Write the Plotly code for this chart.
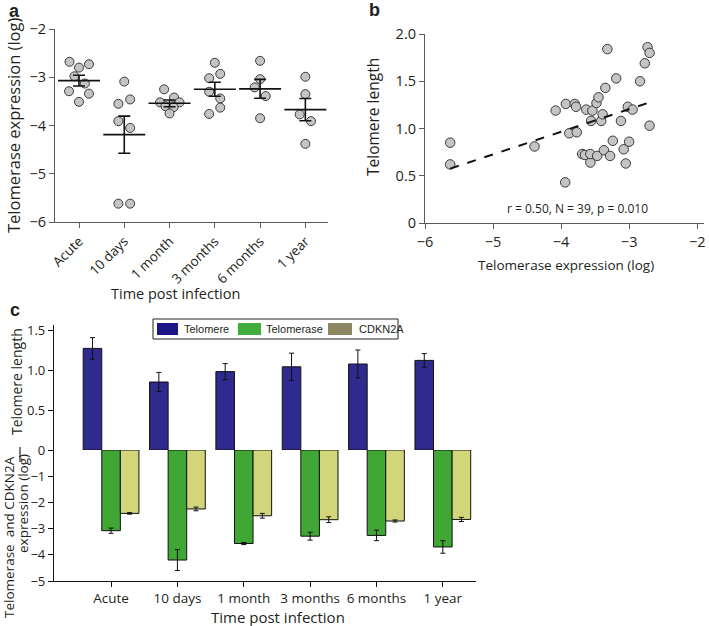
import plotly.graph_objects as go

W, H = 709, 626


def px(x):
    return x / W


def py(y):
    return 1 - y / H


# ---------------- Panel a data ----------------
a_categories = ["Acute", "10 days", "1 month", "3 months", "6 months", "1 year"]
a_acute = [-2.68, -2.80, -2.73, -2.98, -3.13, -3.29, -3.34, -3.51]
a_10days = [-3.09, -3.55, -3.46, -3.91, -4.05, -5.62, -5.62]
a_1month = [-3.25, -3.42, -3.52, -3.52, -3.60, -3.62, -3.75]
a_3months = [-2.70, -3.02, -2.93, -3.30, -3.44, -3.76, -3.63]
a_6months = [-2.66, -3.04, -3.21, -3.39, -3.85]
a_1year = [-2.99, -3.35, -3.77, -3.91, -4.38]
a_mean = [-3.07, -4.19, -3.54, -3.25, -3.24, -3.67]
a_sem = [0.11, 0.385, 0.07, 0.145, 0.195, 0.23]

# ---------------- Panel b data ----------------
b_x = [-5.63, -5.63, -4.39, -4.08, -3.93, -3.94, -3.88, -3.80, -3.78, -3.77,
       -3.69, -3.65, -3.63, -3.57, -3.57, -3.56, -3.54, -3.48, -3.47, -3.45,
       -3.41, -3.39, -3.37, -3.35, -3.32, -3.28, -3.24, -3.19, -3.12, -3.08,
       -3.05, -3.02, -3.00, -2.95, -2.84, -2.77, -2.73, -2.70, -2.70]
b_y = [0.85, 0.62, 0.81, 1.19, 1.26, 0.43, 0.95, 1.26, 1.23, 0.96,
       0.73, 0.72, 1.20, 0.64, 0.73, 1.08, 1.19, 1.27, 0.71, 1.33,
       1.08, 1.15, 0.77, 1.43, 1.84, 0.71, 0.87, 1.53, 1.08, 0.78,
       0.63, 1.23, 0.86, 1.20, 1.50, 1.69, 1.86, 1.80, 1.03]
b_fit_x = [-5.63, -2.74]
b_fit_y = [0.575, 1.267]
b_stats = "r = 0.50, N = 39, p = 0.010"

# ---------------- Panel c data ----------------
c_categories = ["Acute", "10 days", "1 month", "3 months", "6 months", "1 year"]
c_telomere = [1.27, 0.85, 0.98, 1.04, 1.075, 1.12]
c_telomere_err = [0.135, 0.12, 0.10, 0.17, 0.175, 0.085]
c_telomerase = [-3.08, -4.20, -3.57, -3.29, -3.26, -3.70]
c_telomerase_err = [0.10, 0.40, 0.04, 0.15, 0.20, 0.24]
c_cdkn2a = [-2.42, -2.25, -2.51, -2.66, -2.71, -2.65]
c_cdkn2a_err = [0.03, 0.07, 0.09, 0.11, 0.04, 0.08]
c_legend = ["Telomere", "Telomerase", "CDKN2A"]

# ---------------- styling / layout helpers ----------------
FONT = "Open Sans"
TXT = "#231f20"
AX = "#5a5a5a"
PT_FILL = "#c4c4c4"
PT_LINE = "#3a3a3a"
COL_TEL = "#2e2a8e"
COL_TASE = "#40a634"
COL_CDK = "#d3d57b"
LEG_TEL = "#1c1585"
LEG_TASE = "#3fae3c"
LEG_CDK = "#8d8762"

# horizontal jitter of panel-a points (layout only)
a_jitter = [
    [-0.21, 0.0, 0.22, -0.10, 0.13, -0.22, 0.22, 0.0],
    [0.0, -0.13, 0.13, -0.13, 0.13, -0.13, 0.13],
    [-0.12, 0.10, -0.21, 0.22, -0.09, 0.09, 0.0],
    [0.0, -0.125, 0.12, -0.125, 0.12, -0.125, 0.12],
    [0.0, 0.0, -0.12, 0.125, 0.0],
    [0.0, 0.0, -0.125, 0.125, 0.0],
]

fig = go.Figure()

# Panel a points
a_groups = [a_acute, a_10days, a_1month, a_3months, a_6months, a_1year]
for i, (vals, jit) in enumerate(zip(a_groups, a_jitter)):
    fig.add_trace(go.Scatter(
        x=[i + j for j in jit], y=vals, mode="markers",
        marker=dict(size=9, color=PT_FILL, line=dict(color=PT_LINE, width=1)),
        xaxis="x", yaxis="y", showlegend=False, hoverinfo="y"))

# Panel a mean +/- SEM
fig.add_trace(go.Scatter(
    x=list(range(len(a_categories))), y=a_mean, mode="markers",
    marker=dict(symbol="line-ew", size=30, color="black",
                line=dict(color="#111", width=1.6)),
    error_y=dict(type="data", array=a_sem, visible=True, color="#111",
                 thickness=1.6, width=6),
    xaxis="x", yaxis="y", showlegend=False))

# Panel b scatter and fit
fig.add_trace(go.Scatter(
    x=b_x, y=b_y, mode="markers",
    marker=dict(size=9.5, color=PT_FILL, line=dict(color=PT_LINE, width=1)),
    xaxis="x2", yaxis="y2", showlegend=False))
fig.add_trace(go.Scatter(
    x=b_fit_x, y=b_fit_y, mode="lines",
    line=dict(color="#111", width=2, dash="dash"),
    xaxis="x2", yaxis="y2", showlegend=False))

# Panel c bars
idx = list(range(len(c_categories)))
bw = 0.28
fig.add_trace(go.Bar(
    x=idx, y=c_telomere, width=bw, offset=-1.5 * bw,
    marker=dict(color=COL_TEL, line=dict(color="#111", width=1)),
    error_y=dict(type="data", array=c_telomere_err, color="#111", thickness=1, width=2.5),
    xaxis="x3", yaxis="y3", showlegend=False, name=c_legend[0]))
fig.add_trace(go.Bar(
    x=idx, y=c_telomerase, width=bw, offset=-0.5 * bw,
    marker=dict(color=COL_TASE, line=dict(color="#111", width=1)),
    error_y=dict(type="data", array=c_telomerase_err, color="#111", thickness=1, width=2.5),
    xaxis="x3", yaxis="y4", showlegend=False, name=c_legend[1]))
fig.add_trace(go.Bar(
    x=idx, y=c_cdkn2a, width=bw, offset=0.5 * bw,
    marker=dict(color=COL_CDK, line=dict(color="#111", width=1)),
    error_y=dict(type="data", array=c_cdkn2a_err, color="#111", thickness=1, width=2.5),
    xaxis="x3", yaxis="y4", showlegend=False, name=c_legend[2]))

tickfont_a = dict(family=FONT, size=14.5, color=TXT)
tickfont_c = dict(family=FONT, size=13, color=TXT)
common = dict(showgrid=False, zeroline=False, showline=True, ticks="outside",
              ticklen=5, tickwidth=1.2, linewidth=1.2)

fig.update_layout(
    width=W, height=H, margin=dict(l=0, r=0, t=0, b=0, pad=0, autoexpand=False),
    paper_bgcolor="white", plot_bgcolor="white", barmode="overlay",
    showlegend=False,
    xaxis=dict(domain=[px(55), px(328)], range=[-0.53, 5.5], anchor="y",
               tickvals=idx, ticktext=a_categories, tickangle=-45,
               tickfont=dict(family=FONT, size=13.5, color=TXT),
               linecolor=AX, tickcolor=AX, **common),
    yaxis=dict(domain=[py(222), py(29)], range=[-6, -2], anchor="x",
               tickvals=[-6, -5, -4, -3, -2], tickfont=tickfont_a,
               linecolor=AX, tickcolor=AX, **common),
    xaxis2=dict(domain=[px(425), px(704)], range=[-6, -1.9], anchor="y2",
                tickvals=[-6, -5, -4, -3, -2], tickfont=tickfont_a,
                linecolor=AX, tickcolor=AX, **common),
    yaxis2=dict(domain=[py(223), py(34)], range=[0, 2.0], anchor="x2",
                tickvals=[0, 0.5, 1.0, 1.5, 2.0],
                ticktext=["0", "0.5", "1.0", "1.5", "2.0"], tickfont=tickfont_a,
                linecolor=AX, tickcolor=AX, **common),
    xaxis3=dict(domain=[px(54), px(476)], range=[-0.86, 5.5], anchor="y4",
                tickvals=idx, ticktext=c_categories,
                tickfont=dict(family=FONT, size=13.5, color=TXT),
                linecolor="#111", tickcolor="#111", **common),
    yaxis3=dict(domain=[py(450), py(325)], range=[0, 1.5625], anchor="x3",
                tickvals=[0.5, 1.0, 1.5], ticktext=["0.5", "1.0", "1.5"],
                tickfont=tickfont_c, linecolor="#111", tickcolor="#111", **common),
    yaxis4=dict(domain=[py(581), py(450)], range=[-5, 0], anchor="x3",
                tickvals=[-5, -4, -3, -2, -1, 0], tickfont=tickfont_c,
                linecolor="#111", tickcolor="#111", **common),
)

ann = []


def add_text(text, x, y, size, angle=0, bold=False, xanchor="center", family=FONT):
    ann.append(dict(text=("<b>%s</b>" % text) if bold else text,
                    x=px(x), y=py(y), xref="paper", yref="paper",
                    showarrow=False, textangle=angle, xanchor=xanchor,
                    yanchor="middle", font=dict(family=family, size=size, color=TXT)))


add_text("a", 15, 11, 18, bold=True, family="Liberation Sans")
add_text("b", 375, 10, 18, bold=True, family="Liberation Sans")
add_text("c", 15, 310, 18, bold=True, family="Liberation Sans")
add_text("Telomerase expression (log)", 13, 126, 16.5, angle=-90)
add_text("Time post infection", 175, 293, 14.5)
add_text("Telomere length", 373, 117, 15.5, angle=-90)
add_text("Telomerase expression (log)", 566, 265, 13.5)
add_text(b_stats, 577, 208, 12)
add_text("Telomere length", 16, 382, 14, angle=-90)
add_text("Telomerase  and CDKN2A", 9, 537, 13.5, angle=-90)
add_text("expression (log)", 23, 504, 13.5, angle=-90)
add_text("Time post infection", 278, 617, 15)

# Panel c legend (drawn as a boxed key)
leg_items = [(157, 178, LEG_TEL, 182), (238, 261, LEG_TASE, 264), (328, 352, LEG_CDK, 357)]
shapes = [dict(type="rect", xref="paper", yref="paper", x0=px(153), x1=px(398),
               y0=py(339), y1=py(319), line=dict(color="#222", width=1), fillcolor="white")]
for (x0, x1, col, tx), label in zip(leg_items, c_legend):
    shapes.append(dict(type="rect", xref="paper", yref="paper", x0=px(x0), x1=px(x1),
                       y0=py(335), y1=py(323), line=dict(width=0), fillcolor=col))
    add_text(label, tx, 329, 11, xanchor="left", family="Liberation Sans")

# separator tick between the two y-axis titles of panel c
shapes.append(dict(type="line", xref="paper", yref="paper", x0=px(20), x1=px(20),
                   y0=py(447), y1=py(462), line=dict(color="#222", width=1.2)))

fig.update_layout(annotations=ann, shapes=shapes)

fig.write_html(
    "out.html",
    config={"displayModeBar": False},
    post_script="document.body.style.margin='0';document.body.style.overflow='hidden';",
)
